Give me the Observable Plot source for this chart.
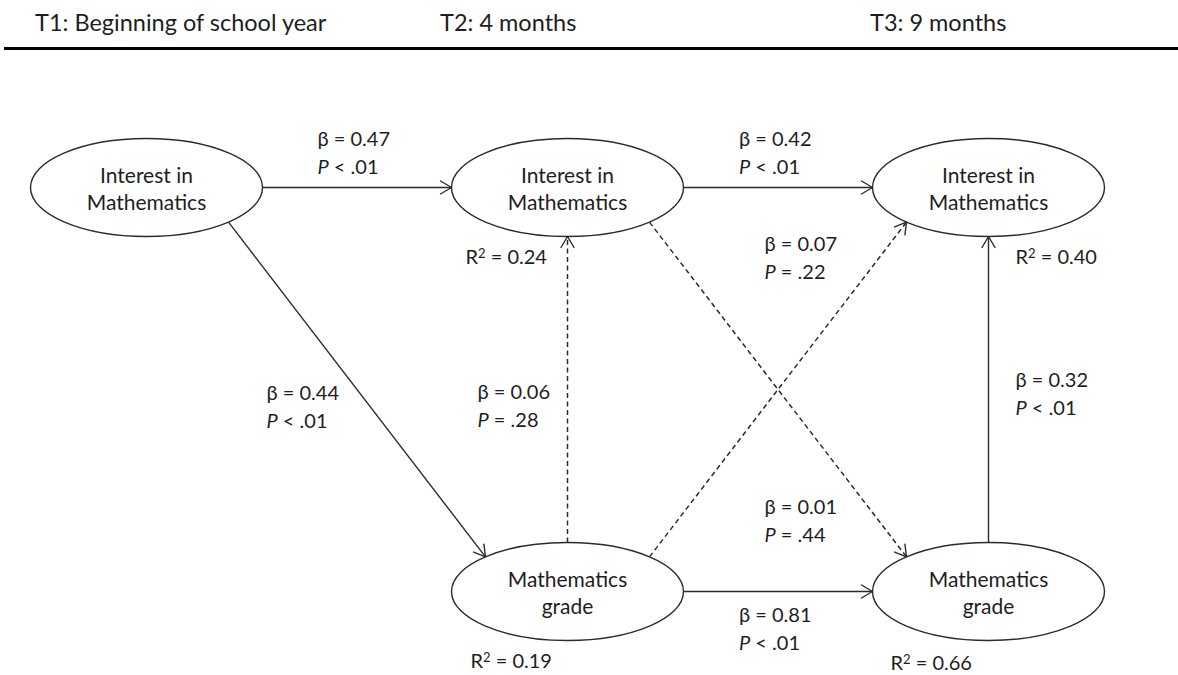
<!DOCTYPE html>
<html><head><meta charset="utf-8">
<script src="https://cdn.jsdelivr.net/npm/d3@7"></script>
<script src="https://cdn.jsdelivr.net/npm/@observablehq/plot@0.6"></script>
<style>
html,body{margin:0;padding:0;background:#fff;}
body{width:1178px;height:675px;overflow:hidden;font-family:Lato,"Open Sans",sans-serif;color:#1e1e1e;}
#header{position:relative;height:47px;border-bottom:3px solid #000;margin-left:4px;}
#header span{position:absolute;top:11px;font-size:23.5px;line-height:1;white-space:nowrap;}
#chart svg{display:block;}
</style></head><body>
<div id="header"></div>
<div id="chart"></div>
<script>
// ---------- data ----------
const timeLabels = ["T1: Beginning of school year", "T2: 4 months", "T3: 9 months"];
const nodeIds    = ["I1", "I2", "I3", "G2", "G3"];
const nodeTime   = [1, 2, 3, 2, 3];
const nodeRow    = [0, 0, 0, 1, 1]; // 0 = interest, 1 = grade
const nodeLabels = ["Interest in\nMathematics", "Interest in\nMathematics", "Interest in\nMathematics",
                    "Mathematics\ngrade", "Mathematics\ngrade"];
const pathFrom   = ["I1", "I2", "I1", "G2", "G2", "I2", "G2", "G3"];
const pathTo     = ["I2", "I3", "G2", "I2", "I3", "G3", "G3", "I3"];
const pathBeta   = [0.47, 0.42, 0.44, 0.06, 0.07, 0.01, 0.81, 0.32];
const pathP      = ["< .01", "< .01", "< .01", "= .28", "= .22", "= .44", "< .01", "< .01"];
const pathSignificant = [true, true, true, false, false, false, true, true];
const r2Nodes    = ["I2", "I3", "G2", "G3"];
const r2Values   = [0.24, 0.40, 0.19, 0.66];

// ---------- layout (styling) ----------
const W = 1178, H = 625;
const RX = 116, RY = 49;
const xDomain = [1, 3], xRange = [146, 988];
const yDomain = [0, 1], yRange = [137, 541];
const headerLeft = [35, 440, 870];
const betaOffset = [[-39.5,-36],[-39,-36],[-90.5,15.5],[-90,15],[-13.5,-133],[-13.5,130],[-39,36],[27,3]];
const r2Offset = [[-102,70],[27,70],[-97,70],[-98,72]];
const ink = "#2b2b2b", textInk = "#1e1e1e";

const X = d3.scaleLinear(xDomain, xRange);
const Y = d3.scaleLinear(yDomain, yRange);

// header
const header = document.getElementById("header");
timeLabels.forEach((t, i) => {
  const s = document.createElement("span");
  s.textContent = t;
  s.style.left = (headerLeft[i] - 4) + "px";
  header.appendChild(s);
});

const nodes = nodeIds.map((id, i) => ({id, t: nodeTime[i], r: nodeRow[i], label: nodeLabels[i]}));
const byId = Object.fromEntries(nodes.map(n => [n.id, n]));

function port(a, b) {
  const sx = Math.sign(b.t - a.t), sy = Math.sign(b.r - a.r);
  const cx = X(a.t), cy = Y(a.r);
  if (sy === 0) return [cx + sx * RX, cy];
  if (sx === 0) return [cx, cy + sy * RY];
  return [cx + sx * RX * Math.SQRT1_2, cy + sy * RY * Math.SQRT1_2];
}

const paths = pathFrom.map((f, i) => {
  const a = byId[f], b = byId[pathTo[i]];
  const [p1x, p1y] = port(a, b), [p2x, p2y] = port(b, a);
  const mx = (p1x + p2x) / 2, my = (p1y + p2y) / 2;
  return {
    x1: X.invert(p1x), y1: Y.invert(p1y), x2: X.invert(p2x), y2: Y.invert(p2y),
    angle: Math.atan2(p2x - p1x, -(p2y - p1y)) * 180 / Math.PI,
    lx: X.invert(mx + betaOffset[i][0]), ly: Y.invert(my + betaOffset[i][1]),
    text: `β = ${pathBeta[i].toFixed(2)}\nP ${pathP[i]}`,
    sig: pathSignificant[i]
  };
});

const r2 = r2Nodes.map((id, i) => {
  const n = byId[id];
  return {x: X.invert(X(n.t) + r2Offset[i][0]), y: Y.invert(Y(n.r) + r2Offset[i][1]),
          text: `R² = ${r2Values[i].toFixed(2)}`};
});

const K = 0.5523;
const ellipseSymbol = {
  draw(c) {
    c.moveTo(RX, 0);
    c.bezierCurveTo(RX, K * RY, K * RX, RY, 0, RY);
    c.bezierCurveTo(-K * RX, RY, -RX, K * RY, -RX, 0);
    c.bezierCurveTo(-RX, -K * RY, -K * RX, -RY, 0, -RY);
    c.bezierCurveTo(K * RX, -RY, RX, -K * RY, RX, 0);
    c.closePath();
  }
};
const headShape = {
  draw(c) {
    c.moveTo(-6.5, 11);
    c.lineTo(0, 0);
    c.lineTo(6.5, 11);
  }
};

const svg = Plot.plot({
  width: W, height: H, margin: 0,
  x: {domain: xDomain, range: xRange, axis: null},
  y: {domain: yDomain, range: yRange, axis: null},
  style: {fontFamily: "Lato, 'Open Sans', sans-serif", background: "#fff", color: textInk},
  marks: [
    Plot.dot(nodes, {x: "t", y: "r", symbol: ellipseSymbol, fill: "white", stroke: ink, strokeWidth: 1.4}),
    Plot.link(paths.filter(d => d.sig), {x1: "x1", y1: "y1", x2: "x2", y2: "y2", stroke: ink, strokeWidth: 1.4}),
    Plot.link(paths.filter(d => !d.sig), {x1: "x1", y1: "y1", x2: "x2", y2: "y2", stroke: ink, strokeWidth: 1.5, strokeDasharray: "5,3.5"}),
    Plot.vector(paths, {x: "x2", y: "y2", rotate: "angle", shape: headShape, anchor: "start", stroke: ink, strokeWidth: 1.4}),
    Plot.text(nodes, {x: "t", y: "r", text: "label", fontSize: 21, lineHeight: 1.3, fill: textInk}),
    Plot.text(paths, {x: "lx", y: "ly", text: "text", textAnchor: "start", fontSize: 20, lineHeight: 1.4, fill: textInk}),
    Plot.text(r2, {x: "x", y: "y", text: "text", textAnchor: "start", fontSize: 20, fill: textInk})
  ]
});

const NS = "http://www.w3.org/2000/svg";
function tspan(txt, attrs) {
  const t = document.createElementNS(NS, "tspan");
  for (const k in attrs) t.setAttribute(k, attrs[k]);
  t.textContent = txt;
  return t;
}
for (const ts of svg.querySelectorAll("tspan")) {
  const s = ts.textContent;
  if (/^P [<=]/.test(s)) {
    ts.textContent = "";
    ts.appendChild(tspan("P", {"font-style": "italic"}));
    ts.appendChild(document.createTextNode(s.slice(1)));
  }
}
for (const tx of svg.querySelectorAll("text")) {
  const s = tx.textContent;
  if (s.startsWith("R²") && !tx.querySelector("tspan")) {
    tx.textContent = "";
    tx.appendChild(document.createTextNode("R"));
    tx.appendChild(tspan("2", {dy: "-6", "font-size": "13"}));
    tx.appendChild(tspan(s.slice(2), {dy: "6"}));
  }
}
document.getElementById("chart").appendChild(svg);
</script>
</body></html>
